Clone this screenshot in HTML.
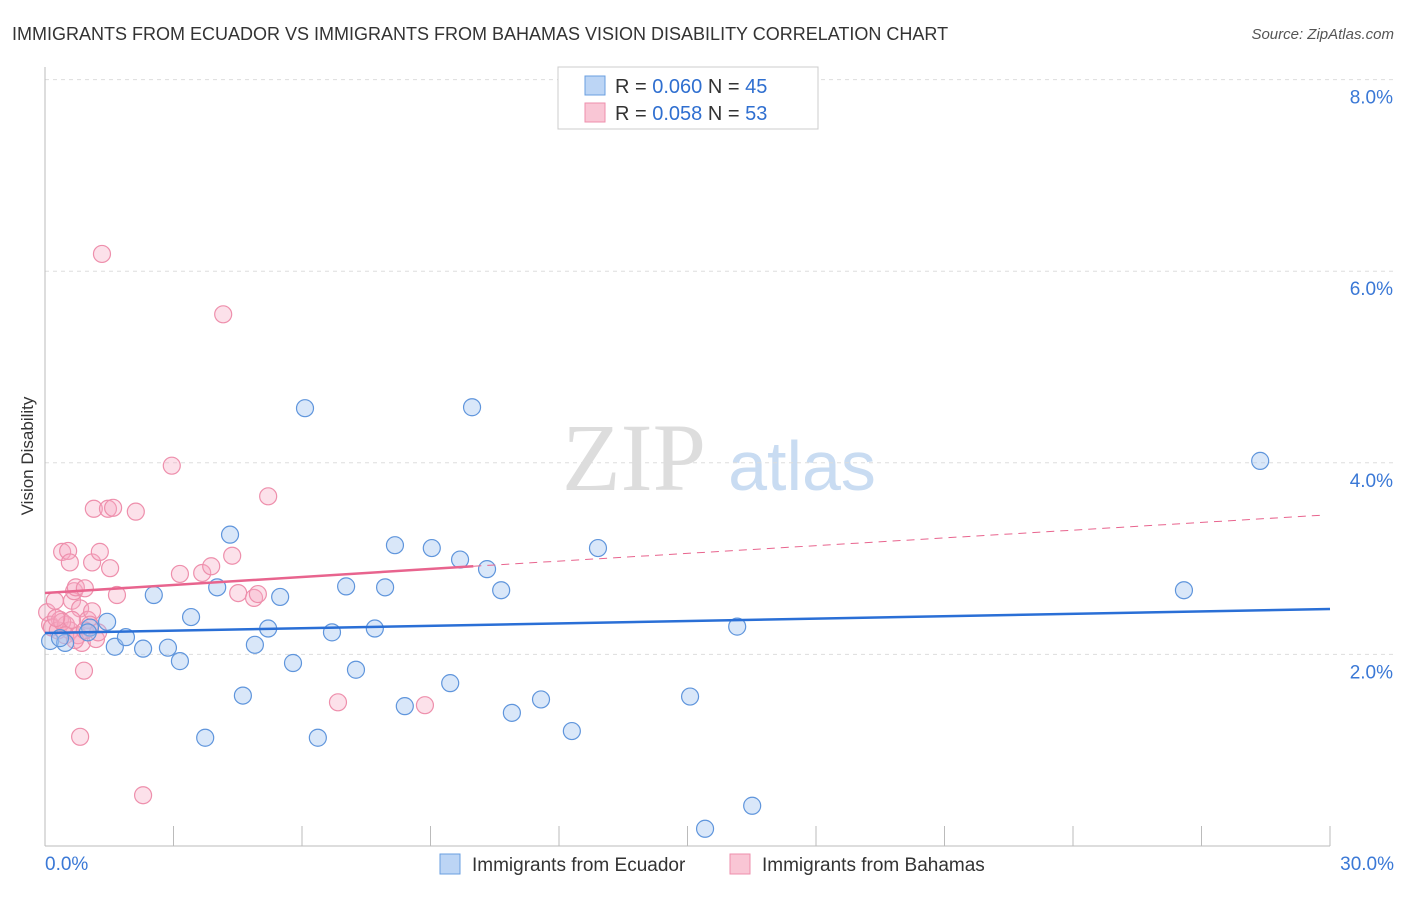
<!DOCTYPE html>
<html><head><meta charset="utf-8"><style>
body{margin:0;background:#fff;font-family:"Liberation Sans",sans-serif}
svg text{font-family:"Liberation Sans",sans-serif}
</style></head><body>
<svg id="c" width="1406" height="892">
<text x="12" y="40" font-size="18" fill="#333">IMMIGRANTS FROM ECUADOR VS IMMIGRANTS FROM BAHAMAS VISION DISABILITY CORRELATION CHART</text>
<text x="1394" y="39" font-size="15" fill="#555" text-anchor="end" font-style="italic">Source: ZipAtlas.com</text>
<text x="33" y="456" font-size="17" fill="#333" text-anchor="middle" transform="rotate(-90 33 456)">Vision Disability</text>
<g><text x="634" y="490" font-size="96" fill="#ddd" text-anchor="middle" font-family="Liberation Serif,serif" style="font-family:'Liberation Serif',serif">ZIP</text><text x="802" y="490" font-size="70" fill="#c9dcf2" text-anchor="middle">atlas</text></g>
<g id="grid"></g><g id="axes"></g><g id="pts"></g><g id="lines"></g>
<g>
<rect x="558" y="67" width="260" height="62" fill="#fff" stroke="#ccc"/>
<rect x="585" y="76" width="20" height="19" fill="#bcd5f5" stroke="#6a9fe0"/>
<rect x="585" y="103" width="20" height="19" fill="#f9c6d5" stroke="#ee8fac"/>
<text x="615" y="93" font-size="20" fill="#333">R = <tspan fill="#2f6fd0">0.060</tspan>   N = <tspan fill="#2f6fd0">45</tspan></text>
<text x="615" y="120" font-size="20" fill="#333">R = <tspan fill="#2f6fd0">0.058</tspan>   N = <tspan fill="#2f6fd0">53</tspan></text>
</g>
<g>
<rect x="440" y="854" width="20" height="20" fill="#bcd5f5" stroke="#6a9fe0"/>
<text x="472" y="871" font-size="19" fill="#333">Immigrants from Ecuador</text>
<rect x="730" y="854" width="20" height="20" fill="#f9c6d5" stroke="#ee8fac"/>
<text x="762" y="871" font-size="19" fill="#333">Immigrants from Bahamas</text>
</g>
</svg>
<script>
const yTicks=[2,4,6,8];
const yTickLabels=["2.0%","4.0%","6.0%","8.0%"];
const xTickVals=[0,3,6,9,12,15,18,21,24,27,30];
const xEndLabels=["0.0%","30.0%"];
const ecuadorX=[0.12,0.47,1.05,1.45,1.63,1.89,2.29,2.54,2.87,3.15,3.41,3.74,4.02,4.32,4.62,4.90,5.21,5.49,5.79,6.07,6.37,6.70,7.03,7.26,7.70,7.94,8.17,8.40,9.03,9.46,9.69,9.97,10.32,10.65,10.90,11.58,12.30,12.91,15.06,15.41,16.16,16.51,26.59,28.37,1.00,0.35];
const ecuadorY=[2.14,2.12,2.28,2.34,2.08,2.18,2.06,2.62,2.07,1.93,2.39,1.13,2.70,3.25,1.57,2.10,2.27,2.60,1.91,4.57,1.13,2.23,2.71,1.84,2.27,2.70,3.14,1.46,3.11,1.70,2.99,4.58,2.89,2.67,1.39,1.53,1.20,3.11,1.56,0.18,2.29,0.42,2.67,4.02,2.23,2.17];
const bahamasX=[0.05,0.12,0.23,0.35,0.40,0.54,0.58,0.63,0.68,0.72,0.82,0.82,0.86,0.91,0.93,1.00,1.10,1.10,1.14,1.19,1.28,1.33,1.47,1.52,1.59,1.68,2.12,2.29,2.96,3.15,3.67,3.88,4.16,4.37,4.51,4.88,4.97,5.21,6.84,8.87,0.16,0.30,0.49,0.58,0.77,0.40,1.05,0.63,0.26,0.47,0.70,0.93,1.24];
const bahamasY=[2.44,2.31,2.56,2.36,3.07,3.08,2.96,2.56,2.66,2.70,2.48,1.14,2.12,1.83,2.69,2.36,2.96,2.45,3.52,2.16,3.07,6.18,3.52,2.90,3.53,2.62,3.49,0.53,3.97,2.84,2.85,2.92,5.55,3.03,2.64,2.59,2.63,3.65,1.50,1.47,2.28,2.25,2.31,2.25,2.20,2.34,2.31,2.36,2.38,2.20,2.15,2.25,2.23];
const ecuadorTrend=[2.223,2.474];
const bahamasTrend=[2.641,2.92,3.455];
const NS="http://www.w3.org/2000/svg";
const X0=45,X1=1330,Y0=846,PY=95.8;
function sx(v){return X0+v/30*(X1-X0);}
function sy(v){return Y0-v*PY;}
function mk(tag,attrs,parent){const e=document.createElementNS(NS,tag);for(const k in attrs)e.setAttribute(k,attrs[k]);document.getElementById(parent).appendChild(e);return e;}
yTicks.forEach((t,i)=>{
 const l=mk('line',{x1:X0,x2:1395,y1:sy(t),y2:sy(t),stroke:'#ddd','stroke-dasharray':'4,4'},'grid');
 
 
 const tx=mk('text',{x:1393,y:sy(t)+24,'font-size':19,fill:'#3a78d6','text-anchor':'end'},'grid');
 tx.textContent=yTickLabels[i];
 
 
});
const ax=mk('line',{x1:X0,x2:X0,y1:67,y2:Y0,stroke:'#bbb'},'axes');


const bx=mk('line',{x1:X0,x2:X1,y1:Y0,y2:Y0,stroke:'#bbb'},'axes');


xTickVals.forEach(v=>{
 const t=mk('line',{x1:sx(v),x2:sx(v),y1:826,y2:Y0,stroke:'#bbb'},'axes');
 
 
});
const xl0=mk('text',{x:45,y:870,'font-size':19,fill:'#3a78d6'},'axes');
xl0.textContent=xEndLabels[0];


const xl1=mk('text',{x:1394,y:870,'font-size':19,fill:'#3a78d6','text-anchor':'end'},'axes');
xl1.textContent=xEndLabels[1];


bahamasX.forEach((v,i)=>{
 const c=mk('circle',{cx:sx(v),cy:sy(bahamasY[i]),r:8.5,fill:'rgba(246,170,194,0.35)',stroke:'#ee8fac','stroke-width':1.2},'pts');
 
 
});
ecuadorX.forEach((v,i)=>{
 const c=mk('circle',{cx:sx(v),cy:sy(ecuadorY[i]),r:8.5,fill:'rgba(160,196,240,0.4)',stroke:'#5f95dc','stroke-width':1.2},'pts');
 
 
});
const el=mk('line',{x1:sx(0),x2:sx(30),y1:sy(ecuadorTrend[0]),y2:sy(ecuadorTrend[1]),stroke:'#2a6fd6','stroke-width':2.5},'lines');


const pl=mk('line',{x1:sx(0),x2:sx(10),y1:sy(bahamasTrend[0]),y2:sy(bahamasTrend[1]),stroke:'#e8648e','stroke-width':2.5},'lines');


const pd=mk('line',{x1:sx(10),x2:sx(29.88),y1:sy(bahamasTrend[1]),y2:sy(bahamasTrend[2]),stroke:'#e8648e','stroke-width':1,'stroke-dasharray':'8,6'},'lines');


</script>
</body></html>
